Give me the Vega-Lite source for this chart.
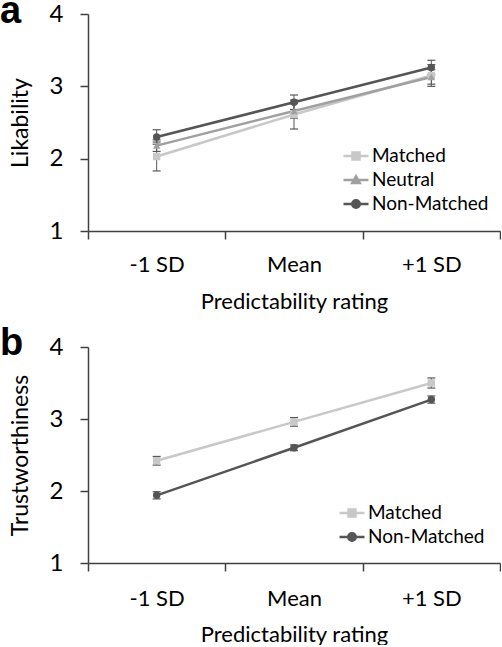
{
  "$schema": "https://vega.github.io/schema/vega-lite/v6.json",
  "padding": {"left": 0, "top": -7, "right": 0, "bottom": 0},
  "background": "white",
  "spacing": 13,
  "config": {
    "view": {"stroke": null},
    "font": "Lato",
    "axis": {
      "domainColor": "#404040", "domainWidth": 1.5, "tickColor": "#404040", "tickWidth": 1.5,
      "tickSize": 8, "grid": false, "labelColor": "#000000", "titleColor": "#000000",
      "labelFont": "Lato", "titleFont": "Lato", "titleFontWeight": "normal"
    },
    "legend": {"labelFont": "Lato", "labelColor": "#000000", "title": null, "orient": "none", "labelFontSize": 19, "symbolSize": 625, "symbolStrokeWidth": 2.5, "labelOffset": 2, "padding": 0}
  },
  "datasets": {
    "a": [
      {"x": "-1 SD", "series": "Matched", "y": 2.03, "lo": 1.83, "hi": 2.23},
      {"x": "Mean", "series": "Matched", "y": 2.61, "lo": 2.41, "hi": 2.81},
      {"x": "+1 SD", "series": "Matched", "y": 3.15, "lo": 3.0, "hi": 3.3},
      {"x": "-1 SD", "series": "Neutral", "y": 2.18, "lo": 2.1, "hi": 2.26},
      {"x": "Mean", "series": "Neutral", "y": 2.66, "lo": 2.56, "hi": 2.76},
      {"x": "+1 SD", "series": "Neutral", "y": 3.13, "lo": 3.03, "hi": 3.23},
      {"x": "-1 SD", "series": "Non-Matched", "y": 2.30, "lo": 2.2, "hi": 2.4},
      {"x": "Mean", "series": "Non-Matched", "y": 2.78, "lo": 2.68, "hi": 2.88},
      {"x": "+1 SD", "series": "Non-Matched", "y": 3.26, "lo": 3.16, "hi": 3.36}
    ],
    "b": [
      {"x": "-1 SD", "series": "Matched", "y": 2.42, "lo": 2.36, "hi": 2.48},
      {"x": "Mean", "series": "Matched", "y": 2.96, "lo": 2.9, "hi": 3.02},
      {"x": "+1 SD", "series": "Matched", "y": 3.50, "lo": 3.43, "hi": 3.57},
      {"x": "-1 SD", "series": "Non-Matched", "y": 1.94, "lo": 1.89, "hi": 1.99},
      {"x": "Mean", "series": "Non-Matched", "y": 2.60, "lo": 2.56, "hi": 2.64},
      {"x": "+1 SD", "series": "Non-Matched", "y": 3.27, "lo": 3.22, "hi": 3.32}
    ]
  },
  "resolve": {"scale": {"color": "independent", "shape": "independent", "fill": "independent", "stroke": "independent", "x": "independent", "y": "independent"}, "legend": {"color": "independent", "shape": "independent", "fill": "independent", "stroke": "independent"}},
  "vconcat": [
    {
      "width": 412, "height": 217,
      "title": {"text": "a", "anchor": "start", "frame": "group", "font": "Liberation Sans", "fontSize": 38, "fontWeight": "bold", "color": "#000000", "dx": -88, "dy": 6, "offset": -53, "baseline": "alphabetic"},
      "data": {"name": "a"},
      "resolve": {"scale": {"shape": "independent", "fill": "independent", "stroke": "independent"}, "legend": {"shape": "independent", "fill": "independent", "stroke": "independent"}},
      "encoding": {
        "x": {"field": "x", "type": "nominal", "sort": ["-1 SD", "Mean", "+1 SD"],
          "scale": {"paddingInner": 0, "paddingOuter": 0},
          "axis": {"title": "Predictability rating", "labelAngle": 0, "tickBand": "extent", "labelFontSize": 22, "titleFontSize": 22, "labelBaseline": "alphabetic", "labelPadding": 32, "titlePadding": 16}},
        "y": {"field": "y", "type": "quantitative", "scale": {"domain": [1, 4], "nice": false},
          "axis": {"title": "Likability", "values": [1, 2, 3, 4], "labelFontSize": 24, "titleFontSize": 23, "labelPadding": 17, "titlePadding": 17}}
      },
      "layer": [
        {"mark": {"type": "rule", "strokeWidth": 1, "color": "#595959"}, "encoding": {"y": {"field": "lo", "type": "quantitative"}, "y2": {"field": "hi"}}},
        {"mark": {"type": "tick", "thickness": 1.2, "size": 8, "orient": "horizontal", "color": "#595959", "opacity": 1}, "encoding": {"y": {"field": "lo", "type": "quantitative"}}},
        {"mark": {"type": "tick", "thickness": 1.2, "size": 8, "orient": "horizontal", "color": "#595959", "opacity": 1}, "encoding": {"y": {"field": "hi", "type": "quantitative"}}},
        {"mark": {"type": "line", "strokeWidth": 2.5},
          "encoding": {"color": {"field": "series", "type": "nominal", "scale": {"domain": ["Matched", "Neutral", "Non-Matched"], "range": ["#c8c8c8", "#a0a0a0", "#555555"]}, "legend": null}}},
        {"mark": {"type": "point", "filled": true, "opacity": 1, "size": 55},
          "encoding": {
            "color": {"field": "series", "type": "nominal", "scale": {"domain": ["Matched", "Neutral", "Non-Matched"], "range": ["#c8c8c8", "#a0a0a0", "#555555"]}, "legend": null},
            "shape": {"field": "series", "type": "nominal", "scale": {"domain": ["Matched", "Neutral", "Non-Matched"], "range": ["square", "triangle-up", "circle"]}, "legend": null}
          }},
        {"transform": [{"filter": "false"}],
          "mark": {"type": "point", "filled": true, "opacity": 1, "strokeWidth": 2.5},
          "encoding": {
            "fill": {"field": "series", "type": "nominal", "scale": {"domain": ["Matched", "Neutral", "Non-Matched"], "range": ["#c8c8c8", "#a0a0a0", "#555555"]},
              "legend": {"legendX": 254, "legendY": 128, "rowPadding": -3}},
            "stroke": {"field": "series", "type": "nominal", "scale": {"domain": ["Matched", "Neutral", "Non-Matched"], "range": ["#c8c8c8", "#a0a0a0", "#555555"]},
              "legend": {"legendX": 254, "legendY": 128, "rowPadding": -3}},
            "shape": {"field": "series", "type": "nominal", "scale": {"domain": ["Matched", "Neutral", "Non-Matched"], "range": ["M-1,0H1M-0.28,-0.28H0.28V0.28H-0.28Z", "M-1,0H1M0,-0.3L0.3,0.24L-0.3,0.24Z", "M-1,0H1M0.3,0A0.3,0.3,0,1,1,-0.3,0A0.3,0.3,0,1,1,0.3,0Z"]},
              "legend": {"legendX": 254, "legendY": 128, "rowPadding": -3}}
          }}
      ]
    },
    {
      "width": 412, "height": 216,
      "title": {"text": "b", "anchor": "start", "frame": "group", "font": "Liberation Sans", "fontSize": 38, "fontWeight": "bold", "color": "#000000", "dx": -88, "dy": 5, "offset": -53, "baseline": "alphabetic"},
      "data": {"name": "b"},
      "resolve": {"scale": {"shape": "independent", "fill": "independent", "stroke": "independent"}, "legend": {"shape": "independent", "fill": "independent", "stroke": "independent"}},
      "encoding": {
        "x": {"field": "x", "type": "nominal", "sort": ["-1 SD", "Mean", "+1 SD"],
          "scale": {"paddingInner": 0, "paddingOuter": 0},
          "axis": {"title": "Predictability rating", "labelAngle": 0, "tickBand": "extent", "labelFontSize": 22, "titleFontSize": 22, "labelBaseline": "alphabetic", "labelPadding": 34, "titlePadding": 15}},
        "y": {"field": "y", "type": "quantitative", "scale": {"domain": [1, 4], "nice": false},
          "axis": {"title": "Trustworthiness", "values": [1, 2, 3, 4], "labelFontSize": 24, "titleFontSize": 23, "labelPadding": 17, "titlePadding": 17}}
      },
      "layer": [
        {"mark": {"type": "rule", "strokeWidth": 1, "color": "#595959"}, "encoding": {"y": {"field": "lo", "type": "quantitative"}, "y2": {"field": "hi"}}},
        {"mark": {"type": "tick", "thickness": 1.2, "size": 8, "orient": "horizontal", "color": "#595959", "opacity": 1}, "encoding": {"y": {"field": "lo", "type": "quantitative"}}},
        {"mark": {"type": "tick", "thickness": 1.2, "size": 8, "orient": "horizontal", "color": "#595959", "opacity": 1}, "encoding": {"y": {"field": "hi", "type": "quantitative"}}},
        {"mark": {"type": "line", "strokeWidth": 2.5},
          "encoding": {"color": {"field": "series", "type": "nominal", "scale": {"domain": ["Matched", "Non-Matched"], "range": ["#c8c8c8", "#555555"]}, "legend": null}}},
        {"mark": {"type": "point", "filled": true, "opacity": 1, "size": 55},
          "encoding": {
            "color": {"field": "series", "type": "nominal", "scale": {"domain": ["Matched", "Non-Matched"], "range": ["#c8c8c8", "#555555"]}, "legend": null},
            "shape": {"field": "series", "type": "nominal", "scale": {"domain": ["Matched", "Non-Matched"], "range": ["square", "circle"]}, "legend": null}
          }},
        {"transform": [{"filter": "false"}],
          "mark": {"type": "point", "filled": true, "opacity": 1, "strokeWidth": 2.5},
          "encoding": {
            "fill": {"field": "series", "type": "nominal", "scale": {"domain": ["Matched", "Non-Matched"], "range": ["#c8c8c8", "#555555"]},
              "legend": {"legendX": 250, "legendY": 152, "rowPadding": -5}},
            "stroke": {"field": "series", "type": "nominal", "scale": {"domain": ["Matched", "Non-Matched"], "range": ["#c8c8c8", "#555555"]},
              "legend": {"legendX": 250, "legendY": 152, "rowPadding": -5}},
            "shape": {"field": "series", "type": "nominal", "scale": {"domain": ["Matched", "Non-Matched"], "range": ["M-1,0H1M-0.28,-0.28H0.28V0.28H-0.28Z", "M-1,0H1M0.3,0A0.3,0.3,0,1,1,-0.3,0A0.3,0.3,0,1,1,0.3,0Z"]},
              "legend": {"legendX": 250, "legendY": 152, "rowPadding": -5}}
          }}
      ]
    }
  ]
}
